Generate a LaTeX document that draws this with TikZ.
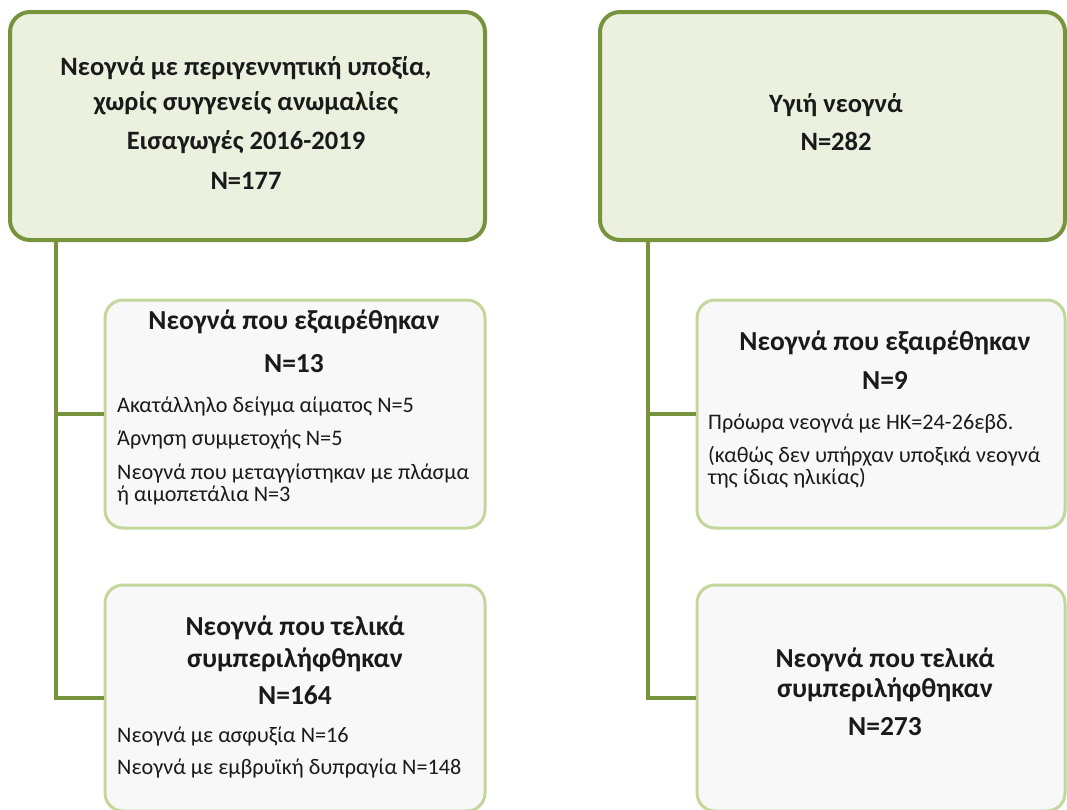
\documentclass[tikz,border=0pt]{standalone}
\usepackage{fontspec}
\setmainfont{Carlito}
\definecolor{darkgr}{HTML}{77933C}
\definecolor{lightgr}{HTML}{C3D69B}
\definecolor{topfill}{HTML}{EBF1DE}
\definecolor{boxfill}{HTML}{F8F8F8}
\definecolor{txt}{HTML}{1A1A1A}
\tikzset{
  topbox/.style={draw=darkgr, line width=4pt, fill=topfill, rounded corners=20pt, inner sep=0pt},
  subbox/.style={draw=lightgr, line width=3pt, fill=boxfill, rounded corners=18pt, inner sep=0pt},
  conn/.style={draw=darkgr, line width=4pt},
  big/.style={font=\fontsize{26.5}{38}\selectfont\bfseries, text=txt, inner sep=0pt, text height=0.7em, text depth=0.25em},
  head/.style={font=\fontsize{27.5}{38}\selectfont\bfseries, text=txt, inner sep=0pt, text height=0.7em, text depth=0.25em},
  small/.style={font=\fontsize{22.2}{24}\selectfont, text=txt, inner sep=0pt, text height=0.7em, text depth=0.25em, anchor=west},
}
\begin{document}
\begin{tikzpicture}[x=1pt,y=-1pt]
\useasboundingbox (0,0) rectangle (1067,809);
\clip (0,0) rectangle (1067,809);
% boxes
\node[topbox, minimum width=475pt, minimum height=228pt] (top1) at (247.5,126) {};
\node[topbox, minimum width=465pt, minimum height=228pt] (top2) at (832.5,126) {};
\node[subbox, minimum width=380pt, minimum height=228pt] (b2l) at (295,414) {};
\node[subbox, minimum width=380pt, minimum height=226pt] (b3l) at (295,698) {};
\node[subbox, minimum width=368pt, minimum height=228pt] (b2r) at (881,414) {};
\node[subbox, minimum width=368pt, minimum height=226pt] (b3r) at (881,698) {};
% connectors
\draw[conn] ([xshift=48pt]top1.south west) |- (b2l.west);
\draw[conn] ([xshift=48pt]top1.south west) |- (b3l.west);
\draw[conn] ([xshift=50pt]top2.south west) |- (b2r.west);
\draw[conn] ([xshift=50pt]top2.south west) |- (b3r.west);
% top left text
\node[big] (t1a) at (246,73) {Νεογνά με περιγεννητική υποξία,};
\node[big] (t1b) at (246,108) {χωρίς συγγενείς ανωμαλίες};
\node[big] (t1c) at (246,147) {Εισαγωγές 2016-2019};
\node[big] (t1d) at (246,187) {N=177};
% top right text
\node[big] (t2a) at (836,110) {Υγιή νεογνά};
\node[big] (t2b) at (836,148) {N=282};
% left excluded
\node[head] (l2a) at (294,327) {Νεογνά που εξαιρέθηκαν};
\node[head] (l2b) at (294,370) {N=13};
\node[small] (l2c) at (117,410) {Ακατάλληλο δείγμα αίματος N=5};
\node[small] (l2d) at (117,443) {Άρνηση συμμετοχής N=5};
\node[small] (l2e) at (117,477) {Νεογνά που μεταγγίστηκαν με πλάσμα};
\node[small] (l2f) at (117,499) {ή αιμοπετάλια N=3};
% left included
\node[head] (l3a) at (295,633) {Νεογνά που τελικά};
\node[head] (l3b) at (295,665) {συμπεριλήφθηκαν};
\node[head] (l3c) at (295,702) {N=164};
\node[small] (l3d) at (117,740) {Νεογνά με ασφυξία N=16};
\node[small] (l3e) at (117,772) {Νεογνά με εμβρυϊκή δυπραγία N=148};
% right excluded
\node[head] (r2a) at (885,348) {Νεογνά που εξαιρέθηκαν};
\node[head] (r2b) at (885,387) {N=9};
\node[small] (r2c) at (708,427) {Πρόωρα νεογνά με ΗΚ=24-26εβδ.};
\node[small] (r2d) at (708,460) {(καθώς δεν υπήρχαν υποξικά νεογνά};
\node[small] (r2e) at (708,482) {της ίδιας ηλικίας)};
% right included
\node[head] (r3a) at (885,665) {Νεογνά που τελικά};
\node[head] (r3b) at (885,695) {συμπεριλήφθηκαν};
\node[head] (r3c) at (885,733) {N=273};
\end{tikzpicture}
\end{document}
